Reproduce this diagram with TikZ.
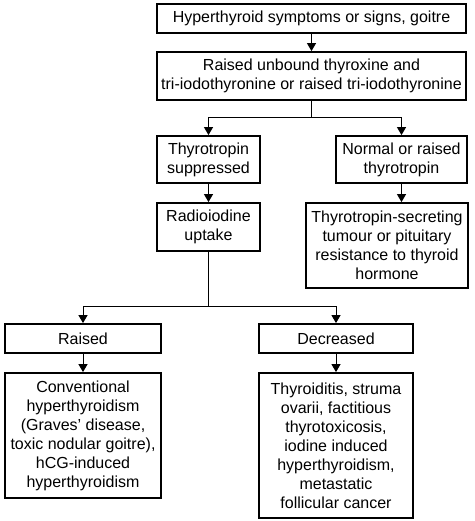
\documentclass[tikz,border=0pt]{standalone}
\usepackage{fontspec}
\setmainfont{Liberation Sans}
\usetikzlibrary{positioning,arrows.meta}
\begin{document}
\begin{tikzpicture}[x=1pt,y=-1pt,
    box/.style={draw, line width=1.8pt, align=center, inner sep=0pt,
      font=\fontsize{16}{19}\selectfont},
    ln/.style={line width=1pt},
    arr/.style={line width=1pt, -{Triangle[length=8pt,width=9pt]}}]
    \useasboundingbox (0,0) rectangle (474,521);
    \node[box, minimum width=309pt, minimum height=29pt] (a) at (311.5,18.5) {Hyperthyroid symptoms or signs, goitre};
    \node[box, minimum width=309pt, minimum height=48pt] (b) at (311.5,76) {Raised unbound thyroxine and\\tri-iodothyronine or raised tri-iodothyronine};
    \node[box, minimum width=103pt, minimum height=47pt] (c) at (208.5,159.5) {Thyrotropin\\suppressed};
    \node[box, minimum width=131pt, minimum height=47pt] (d) at (401.5,159.5) {Normal or raised\\thyrotropin};
    \node[box, minimum width=103pt, minimum height=48pt] (e) at (208.5,227) {Radioiodine\\uptake};
    \node[box, minimum width=162pt, minimum height=85pt] (f) at (387,245.5) {Thyrotropin-secreting\\tumour or pituitary\\resistance to thyroid\\hormone};
    \node[box, minimum width=156pt, minimum height=29pt] (g) at (83,338.5) {Raised};
    \node[box, minimum width=154pt, minimum height=29pt] (h) at (336,338.5) {Decreased};
    \node[box, minimum width=156pt, minimum height=125pt] (i) at (83,435.5) {Conventional\\hyperthyroidism\\(Graves' disease,\\toxic nodular goitre),\\hCG-induced\\hyperthyroidism};
    \node[box, minimum width=154pt, minimum height=145pt] (j) at (336,445.5) {Thyroiditis, struma\\ovarii, factitious\\thyrotoxicosis,\\iodine induced\\hyperthyroidism,\\metastatic\\follicular cancer};
    % branch points
    \coordinate (s1) at (311.5,118);
    \coordinate (s2) at (208.5,306);

    \draw[arr] (a) -- (b);
    \draw[ln] (b) -- (s1);
    \draw[arr] (s1) -| (c.north);
    \draw[arr] (s1) -| (d.north);
    \draw[arr] (c) -- (e);
    \draw[arr] (d.south) -- (d.south |- f.north);
    \draw[ln] (e) -- (s2);
    \draw[arr] (s2) -| (g.north);
    \draw[arr] (s2) -| (h.north);
    \draw[arr] (g) -- (i);
    \draw[arr] (h) -- (j);
\end{tikzpicture}
\end{document}
